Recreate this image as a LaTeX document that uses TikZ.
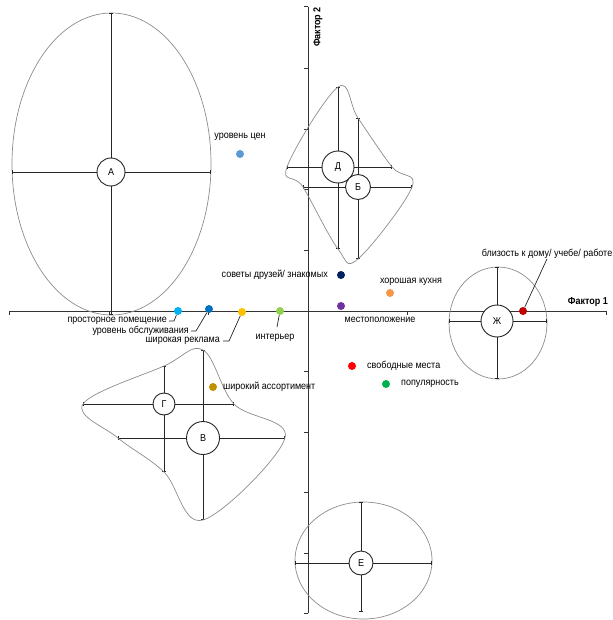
\documentclass[tikz,border=0pt]{standalone}
\usepackage{fontspec}
\setmainfont[FakeStretch=0.9]{Liberation Sans}
\usetikzlibrary{arrows.meta}
\definecolor{cprice}{HTML}{5B9BD5}
\definecolor{cadvice}{HTML}{002060}
\definecolor{ckitchen}{HTML}{F79646}
\definecolor{cplace}{HTML}{7030A0}
\definecolor{cnear}{HTML}{C00000}
\definecolor{cfree}{HTML}{FF0000}
\definecolor{cpop}{HTML}{00B050}
\definecolor{croom}{HTML}{00B0F0}
\definecolor{cservice}{HTML}{0070C0}
\definecolor{cads}{HTML}{FFC000}
\definecolor{cinter}{HTML}{92D050}
\definecolor{cassort}{HTML}{BF9000}
\begin{document}
\begin{tikzpicture}[x=1pt,y=-1pt,
  axis/.style={draw=black!80,line width=1pt},
  whisker/.style={draw=black!85,line width=0.9pt,{Bar[width=4pt]}-{Bar[width=4pt]}},
  cloud/.style={draw=black!45,line width=0.7pt},
  centre/.style={circle,draw=black!85,line width=0.9pt,fill=white,inner sep=0pt,font=\fontsize{10}{11}\selectfont},
  dot/.style={circle,inner sep=0pt,minimum size=8pt},
  lbl/.style={inner sep=0pt,font=\fontsize{10}{11}\selectfont},
  leader/.style={draw=black!85,line width=0.7pt}]
  \useasboundingbox (0,0) rectangle (612,620);

  \coordinate (O) at (308,311);
  \coordinate (xl) at (9,311);
  \coordinate (xr) at (606,311);
  \coordinate (yt) at (308,7);
  \coordinate (yb) at (308,613);
  \draw[axis] (xl) -- (xr);
  \draw[axis] (yt) -- (yb);
  \foreach \x in {9,109,208.5,407.5,507,606} {
   \draw[axis] (\x,311) -- (\x,315);
  }
  \foreach \y in {7,68.5,129.5,190,250.5,371.5,432,492.5,553,613} {
   \draw[axis] (308,\y) -- (304,\y);
  }
  \node[lbl,font=\fontsize{10}{11}\selectfont\bfseries,anchor=east] (f1) at (608,302) {Фактор 1};
  \node[lbl,font=\fontsize{10}{11}\selectfont\bfseries,rotate=90] (f2) at (318,27) {Фактор 2};

  \draw[cloud] (111.5,164) ellipse [x radius=99.5pt, y radius=151pt];
  \draw[cloud] (498,323) ellipse [x radius=49pt, y radius=56pt];
  \draw[cloud] (363.5,560.5) ellipse [x radius=68.5pt, y radius=58.5pt];

  \foreach \nm/\cx/\cy/\xl/\xr/\yt/\yb in {
   A/111/172/12/211/13/315,
   B/358/187/303/412/118/259,
   V/203/438/118/285/350/520,
   G/164/404/83/234/366/472,
   D/338/167/287/392/87/249,
   E/361/563/295/432/502/612,
   Zh/497/321/449/547/267/379} {
   \coordinate (\nm-w) at (\xl,\cy);
   \coordinate (\nm-e) at (\xr,\cy);
   \coordinate (\nm-n) at (\cx,\yt);
   \coordinate (\nm-s) at (\cx,\yb);
   \draw[whisker] (\nm-w) -- (\nm-e);
   \draw[whisker] (\nm-n) -- (\nm-s);
  }

  \draw[cloud] plot[smooth cycle,tension=0.6] coordinates {(D-w) (D-n) (B-n) (D-e) (B-e) (B-s) (D-s) (B-w)};
  \draw[cloud] plot[smooth cycle,tension=0.6] coordinates {(G-w) (G-n) (V-n) (G-e) (V-e) (V-s) (G-s) (V-w)};

  \foreach \nm/\lt/\cx/\cy/\r in {
   A/А/111/172/14, D/Д/338/167/16, B/Б/358/187/12.5, G/Г/164/404/11,
   V/В/203/438/16.5, E/Е/361/563/12, Zh/Ж/497/321/16} {
   \node[centre,minimum size={2*\r pt}] (\nm) at (\cx,\cy) {\lt};
  }

  \node[dot,fill=cprice] (price) at (240,154) {};
  \node[lbl] (price-l) at (240,137) {уровень цен};
  \node[dot,fill=cadvice] (advice) at (341,275) {};
  \node[lbl,anchor=east] (advice-l) at (328,275) {советы друзей/ знакомых};
  \node[dot,fill=ckitchen] (kitchen) at (390,293) {};
  \node[lbl] (kitchen-l) at (411,282) {хорошая кухня};
  \node[dot,fill=cplace] (place) at (341,306) {};
  \node[lbl] (place-l) at (380,320) {местоположение};
  \node[dot,fill=cnear] (near) at (523,311) {};
  \node[lbl] (near-l) at (547,254) {близость к дому/ учебе/ работе};
  \node[dot,fill=cfree] (free) at (352,366) {};
  \node[lbl,anchor=west] (free-l) at (367,366) {свободные места};
  \node[dot,fill=cpop] (pop) at (386,384) {};
  \node[lbl,anchor=west] (pop-l) at (401,384) {популярность};
  \node[dot,fill=cassort] (assort) at (213,387) {};
  \node[lbl,anchor=west] (assort-l) at (223,387) {широкий ассортимент};
  \node[dot,fill=croom] (room) at (178,311) {};
  \node[lbl,anchor=east] (room-l) at (167,321) {просторное помещение};
  \node[dot,fill=cservice] (service) at (209,309) {};
  \node[lbl,anchor=east] (service-l) at (189,331) {уровень обслуживания};
  \node[dot,fill=cads] (ads) at (242,312) {};
  \node[lbl,anchor=east] (ads-l) at (220,341) {широкая реклама};
  \node[dot,fill=cinter] (inter) at (280,311) {};
  \node[lbl] (inter-l) at (275,338) {интерьер};
  \coordinate (inter-k) at (277,327);

  \draw[leader] (near) -- (near-l.south);
  \draw[leader] ([xshift=2pt]room-l.east) -- ++(5,0) -- (room);
  \draw[leader] ([xshift=2pt]service-l.east) -- ++(5,0) -- (service);
  \draw[leader] ([xshift=3pt]ads-l.east) -- ++(6,0) -- (ads);
  \draw[leader] (inter) -- (inter-k);
 \end{tikzpicture}
\end{document}
